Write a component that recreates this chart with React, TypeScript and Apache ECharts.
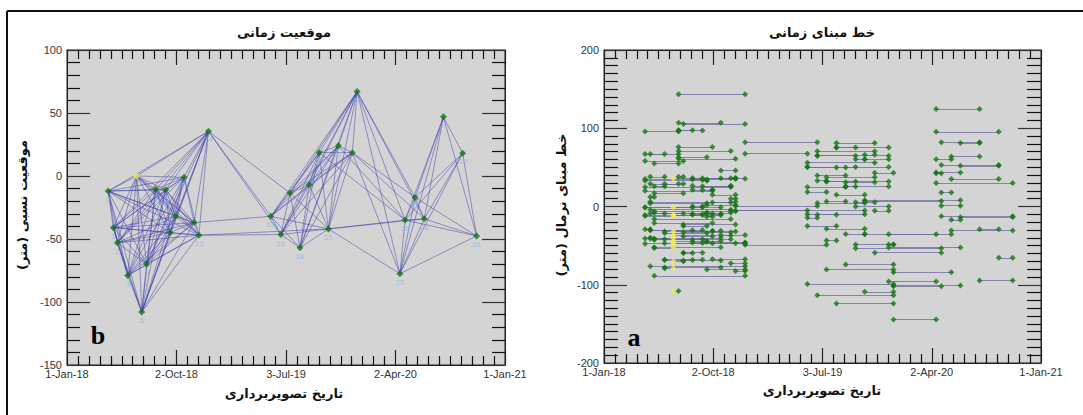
import React, { useEffect, useRef } from "react";
import * as echarts from "echarts";

// Acquisition dates (sorted) and their relative position (m) w.r.t. super master
const startDate = "2018-01-01";
const endDate = "2021-01-01";
const acqDates = [
  "2018-04-14", "2018-04-27", "2018-05-07", "2018-06-02", "2018-06-24", "2018-07-07",
  "2018-07-19", "2018-08-11", "2018-09-05", "2018-09-16", "2018-09-30", "2018-10-21",
  "2018-11-15", "2018-11-27", "2018-12-21", "2019-05-26", "2019-06-20", "2019-07-13",
  "2019-08-07", "2019-08-30", "2019-09-24", "2019-10-17", "2019-11-11", "2019-12-16",
  "2019-12-28", "2020-04-13", "2020-04-26", "2020-05-21", "2020-06-13", "2020-07-31",
  "2020-09-17", "2020-10-22",
];
const relPosition = [
  -12, -41, -53, -79, 0, -108, -70, -10.6, -11, -45, -32, -1,
  -37, -47, 35.5, -32, -46.5, -13.5, -57, -7, 18.5, -42, 24, 18.5,
  67, -77.5, -35, -17, -34, 47, 18, -47.6,
];
const superMaster = 4;

// Interferometric pairs [master, slave]; normal baseline = pos[slave] - pos[master]
const pairs: [number, number][] = [
  [0, 1], [0, 2], [3, 0], [4, 0], [5, 0], [6, 0], [7, 0], [8, 0], [9, 0], [10, 0], [11, 0], [12, 0], [13, 0], [14, 0],
  [2, 1], [3, 1], [4, 1], [5, 1], [6, 1], [7, 1], [8, 1], [9, 1], [10, 1], [11, 1], [12, 1], [13, 1], [14, 1],
  [3, 2], [4, 2], [5, 2], [6, 2], [7, 2], [8, 2], [9, 2], [10, 2], [11, 2], [12, 2], [13, 2], [14, 2],
  [4, 3], [5, 3], [6, 3], [7, 3], [8, 3], [9, 3], [10, 3], [11, 3], [12, 3], [13, 3],
  [4, 5], [4, 6], [4, 7], [4, 8], [4, 9], [4, 10], [4, 11], [4, 12], [4, 13], [4, 14],
  [5, 6], [5, 7], [5, 8], [5, 9], [5, 10], [5, 11], [5, 12], [5, 13], [5, 14],
  [7, 6], [8, 6], [9, 6], [10, 6], [11, 6], [12, 6], [13, 6], [6, 14],
  [8, 7], [9, 7], [10, 7], [11, 7], [12, 7], [13, 7], [14, 7],
  [9, 8], [10, 8], [11, 8], [12, 8], [13, 8], [14, 8],
  [10, 9], [11, 9], [12, 9], [13, 9], [14, 9],
  [11, 10], [12, 10], [13, 10], [14, 10],
  [12, 11], [13, 11], [14, 11],
  [13, 12], [14, 12],
  [14, 13],
  [15, 14], [16, 14], [15, 12], [21, 13], [14, 17], [13, 16],
  [15, 16], [15, 17], [15, 18], [15, 19], [15, 20], [15, 21], [15, 22], [15, 23], [24, 15],
  [16, 17], [16, 18], [16, 19], [16, 20], [16, 21], [16, 22], [16, 23], [24, 16],
  [17, 18], [17, 19], [17, 20], [17, 21], [17, 22], [17, 23], [24, 17],
  [18, 19], [18, 20], [18, 21], [18, 22], [18, 23], [24, 18],
  [19, 20], [19, 21], [19, 22], [19, 23], [24, 19],
  [21, 20], [20, 22], [20, 23], [24, 20],
  [21, 22], [21, 23], [24, 21],
  [22, 23], [22, 24],
  [24, 23],
  [24, 25], [24, 26], [24, 28], [24, 27], [23, 25], [21, 25], [21, 26], [21, 28], [22, 26], [23, 27], [23, 28], [20, 26],
  [25, 29], [25, 30], [26, 29], [28, 29], [27, 29], [26, 30], [28, 30], [27, 30], [25, 31], [26, 31], [28, 31],
  [27, 31], [29, 30], [30, 31], [29, 31], [25, 27], [25, 26], [25, 28], [26, 27], [26, 28], [27, 28],
];

const xTickLabels = ["1-Jan-18", "2-Oct-18", "3-Jul-19", "2-Apr-20", "1-Jan-21"];
const titleB = "موقعیت زمانی";
const titleA = "خط مبنای زمانی";
const xName = "تاریخ تصویربرداری";
const yNameB = "موقعیت نسبی (متر)";
const yNameA = "خط مبنای نرمال (متر)";

const DAY = 86400000;
const t0 = Date.parse(startDate + "T00:00:00Z");
const dayOf = (s: string) => Math.round((Date.parse(s + "T00:00:00Z") - t0) / DAY);
const totalDays = dayOf(endDate);
const tickStep = totalDays / 4;

const ARFONT = "'DejaVu Sans', sans-serif";
const NUMFONT = "'Liberation Sans', Arial, sans-serif";

function xAxis(grid: number, position: string, labels: boolean) {
  return {
    type: "value",
    gridIndex: grid,
    position,
    min: 0,
    max: totalDays,
    interval: tickStep,
    splitLine: { show: false },
    axisLine: { show: true, onZero: false, lineStyle: { color: "#222", width: 1 } },
    axisTick: { show: true, inside: true, length: 15, lineStyle: { color: "#222", width: 1.2 } },
    minorTick: { show: true, splitNumber: 10, length: 9, lineStyle: { color: "#111", width: 1.2 } },
    axisLabel: labels
      ? {
          show: true,
          margin: 3,
          color: "#333",
          fontSize: 11,
          fontFamily: NUMFONT,
          formatter: (v: number) => xTickLabels[Math.round(v / tickStep)] ?? "",
        }
      : { show: false },
  };
}

function yAxis(grid: number, position: string, labels: boolean, min: number, max: number, interval: number, minorSplit: number, minorLen: number) {
  return {
    type: "value",
    gridIndex: grid,
    position,
    min,
    max,
    interval,
    splitLine: { show: false },
    axisLine: { show: true, onZero: false, lineStyle: { color: "#222", width: 1 } },
    axisTick: { show: true, inside: true, length: 23, lineStyle: { color: "#333", width: 1.2 } },
    minorTick: { show: true, splitNumber: minorSplit, length: minorLen, lineStyle: { color: "#111", width: 1.2 } },
    axisLabel: labels ? { show: true, margin: 5, color: "#333", fontSize: 11, fontFamily: NUMFONT } : { show: false },
  };
}

export default function App() {
  const ref = useRef<HTMLDivElement>(null);
  useEffect(() => {
    if (!ref.current) return;
    const chart = echarts.init(ref.current, undefined, { renderer: "svg" });
    const xs = acqDates.map(dayOf);

    // Panel b: network of pairs in time-position space
    const netLines = pairs.map(([m, s]) => ({
      coords: [
        [xs[m], relPosition[m]],
        [xs[s], relPosition[s]],
      ],
    }));
    const nodesGreen = xs
      .map((x, i) => ({ value: [x, relPosition[i]], idx: i }))
      .filter((d) => d.idx !== superMaster)
      .map((d) => ({ value: d.value, name: String(d.idx) }));
    const nodeYellow = [{ value: [xs[superMaster], relPosition[superMaster]], name: String(superMaster) }];

    // Panel a: each pair as a horizontal segment at its normal baseline
    const baseLines = pairs.map(([m, s]) => {
      const b = relPosition[s] - relPosition[m];
      return { coords: [[xs[m], b], [xs[s], b]] };
    });
    const endGreen: number[][] = [];
    const endYellow: number[][] = [];
    pairs.forEach(([m, s]) => {
      const b = relPosition[s] - relPosition[m];
      [m, s].forEach((k) => {
        if (k === superMaster) endYellow.push([xs[k], b]);
        else endGreen.push([xs[k], b]);
      });
    });

    const rectB = { left: 67, top: 50, width: 438, height: 315 };
    const rectA = { left: 604, top: 50, width: 437, height: 313 };

    const option: any = {
      animation: false,
      backgroundColor: "#ffffff",
      grid: [
        { ...rectB, show: true, backgroundColor: "#d4d4d4", borderColor: "#222", borderWidth: 1 },
        { ...rectB, show: false },
        { ...rectA, show: true, backgroundColor: "#d4d4d4", borderColor: "#222", borderWidth: 1 },
        { ...rectA, show: false },
      ],
      xAxis: [
        xAxis(0, "bottom", true),
        xAxis(1, "top", false),
        xAxis(2, "bottom", true),
        xAxis(3, "top", false),
      ],
      yAxis: [
        yAxis(0, "left", true, -150, 100, 50, 5, 13),
        yAxis(1, "right", false, -150, 100, 50, 5, 13),
        yAxis(2, "left", true, -200, 200, 100, 10, 14),
        yAxis(3, "right", false, -200, 200, 100, 10, 14),
      ],
      series: [
        {
          type: "lines",
          coordinateSystem: "cartesian2d",
          xAxisIndex: 0,
          yAxisIndex: 0,
          silent: true,
          data: netLines,
          lineStyle: { color: "#3838a6", width: 0.8, opacity: 0.6 },
          z: 2,
        },
        {
          type: "scatter",
          xAxisIndex: 0,
          yAxisIndex: 0,
          symbol: "diamond",
          symbolSize: 7,
          itemStyle: { color: "#167516" },
          label: {
            show: true,
            position: "bottom",
            distance: 1,
            formatter: (p: any) => p.name,
            color: "#8cb6e6",
            fontSize: 8,
            fontFamily: NUMFONT,
          },
          data: nodesGreen,
          z: 4,
        },
        {
          type: "scatter",
          xAxisIndex: 0,
          yAxisIndex: 0,
          symbol: "diamond",
          symbolSize: 7,
          itemStyle: { color: "#f2f04a" },
          data: nodeYellow,
          z: 5,
        },
        {
          type: "lines",
          coordinateSystem: "cartesian2d",
          xAxisIndex: 2,
          yAxisIndex: 2,
          silent: true,
          data: baseLines,
          lineStyle: { color: "#6a6aa0", width: 1, opacity: 0.75 },
          z: 2,
        },
        {
          type: "scatter",
          xAxisIndex: 2,
          yAxisIndex: 2,
          symbol: "diamond",
          symbolSize: 6,
          itemStyle: { color: "#167516" },
          data: endGreen,
          z: 4,
        },
        {
          type: "scatter",
          xAxisIndex: 2,
          yAxisIndex: 2,
          symbol: "diamond",
          symbolSize: 6,
          itemStyle: { color: "#f2f04a" },
          data: endYellow,
          z: 5,
        },
      ],
      graphic: [
        { type: "line", shape: { x1: 7, y1: 11, x2: 1083, y2: 11 }, style: { stroke: "#111", lineWidth: 2 } },
        { type: "line", shape: { x1: 7, y1: 11, x2: 7, y2: 415 }, style: { stroke: "#111", lineWidth: 2 } },
        { type: "text", x: 284, y: 32, style: { text: titleB, font: `bold 13px ${ARFONT}`, fill: "#111", align: "center", verticalAlign: "middle" } },
        { type: "text", x: 822, y: 32, style: { text: titleA, font: `bold 13px ${ARFONT}`, fill: "#111", align: "center", verticalAlign: "middle" } },
        { type: "text", x: 284, y: 393, style: { text: xName, font: `bold 13px ${ARFONT}`, fill: "#111", align: "center", verticalAlign: "middle" } },
        { type: "text", x: 822, y: 390, style: { text: xName, font: `bold 13px ${ARFONT}`, fill: "#111", align: "center", verticalAlign: "middle" } },
        { type: "text", x: 22, y: 205, rotation: Math.PI / 2, style: { text: yNameB, font: `bold 13px ${ARFONT}`, fill: "#111", align: "center", verticalAlign: "middle" } },
        { type: "text", x: 561, y: 205, rotation: Math.PI / 2, style: { text: yNameA, font: `bold 13px ${ARFONT}`, fill: "#111", align: "center", verticalAlign: "middle" } },
        { type: "text", x: 98, y: 335, style: { text: "b", font: `bold 26px 'Liberation Serif', serif`, fill: "#000", align: "center", verticalAlign: "middle" } },
        { type: "text", x: 634, y: 337, style: { text: "a", font: `bold 26px 'Liberation Serif', serif`, fill: "#000", align: "center", verticalAlign: "middle" } },
      ],
    };
    chart.setOption(option);
    return () => chart.dispose();
  }, []);
  return (
    <div
      ref={ref}
      style={{ position: "absolute", left: 0, top: 0, width: 1083, height: 415, background: "#fff" }}
    />
  );
}
